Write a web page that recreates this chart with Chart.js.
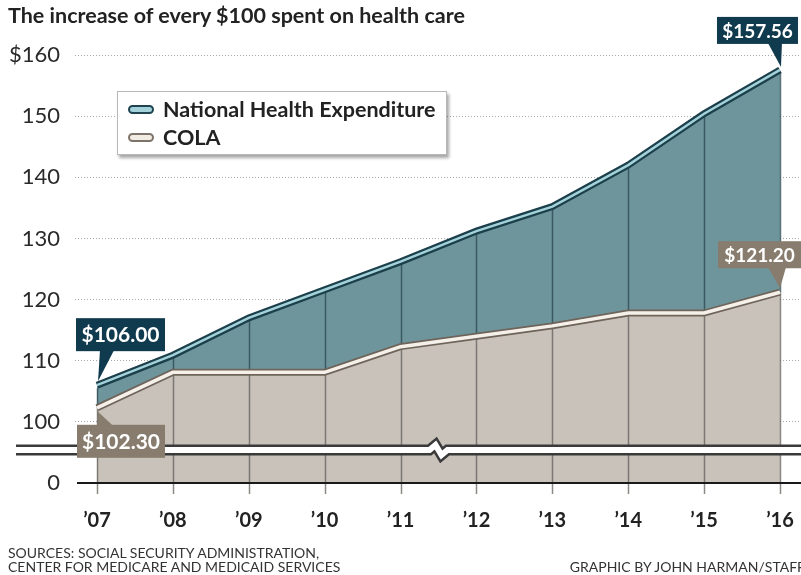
<!DOCTYPE html>
<html>
<head>
<meta charset="utf-8">
<script src="https://cdn.jsdelivr.net/npm/chart.js@4/dist/chart.umd.min.js"></script>
<style>
  body { margin: 0; background: #fff; font-family: Lato, "Open Sans", sans-serif; }
  #wrap { position: relative; width: 801px; height: 575px; overflow: hidden; }
  #title { position: absolute; left: 8px; top: 2px; font-size: 21.5px; font-weight: bold; color: #222; }
  #legend { position: absolute; left: 117px; top: 91px; width: 328px; height: 62px; background: #fff;
            border: 1px solid #b8b8b8; box-shadow: 2px 3px 3px rgba(0,0,0,0.35); }
  .row { position: absolute; left: 10px; font-size: 21.5px; font-weight: bold; color: #222; line-height: 24px; white-space: nowrap; }
  .pill { display: inline-block; width: 22px; height: 5px; border-radius: 5px; vertical-align: middle; margin-right: 9px; position: relative; top: -2px; }
  .src { position: absolute; font-size: 14px; color: #333; line-height: 14px; white-space: nowrap; }
</style>
</head>
<body>
<div id="wrap">
  <canvas id="chart" width="801" height="575"></canvas>
  <div id="title">The increase of every $100 spent on health care</div>
  <div id="legend">
    <div class="row" style="top:5px"><span class="pill" style="background:#a4d2da;border:2px solid #1f4450"></span>National Health Expenditure</div>
    <div class="row" style="top:33px"><span class="pill" style="background:#f1ece4;border:2px solid #7d7369"></span>COLA</div>
  </div>
  <div class="src" style="left:8px;top:546px">SOURCES: SOCIAL SECURITY ADMINISTRATION,<br>CENTER FOR MEDICARE AND MEDICAID SERVICES</div>
  <div class="src" style="right:-4px;top:560px">GRAPHIC BY JOHN HARMAN/STAFF</div>
</div>
<script>
const years = [2007, 2008, 2009, 2010, 2011, 2012, 2013, 2014, 2015, 2016]
const nhe = [106.00, 110.9, 117.0, 121.6, 126.2, 131.2, 135.2, 142.0, 150.4, 157.56]
const cola = [102.30, 108.1, 108.1, 108.1, 112.3, 114.0, 115.7, 117.8, 117.8, 121.20]
const yTicks = [90, 100, 110, 120, 130, 140, 150, 160]
const breakValue = 95.4

const toPoints = arr => arr.map((v, i) => ({x: years[i], y: v}))

// vertical lines under the lines but over the fills
const verticals = {
  id: "verticals",
  beforeDatasetsDraw(chart) {
    const ctx = chart.ctx, xs = chart.scales.x, ys = chart.scales.y
    const bottom = ys.getPixelForValue(90)
    ctx.save()
    ctx.lineWidth = 1.5
    years.forEach((yr, i) => {
      const x = Math.round(xs.getPixelForValue(yr)) + 0.5
      const top = ys.getPixelForValue(nhe[i]) + 3
      const mid = ys.getPixelForValue(cola[i])
      ctx.strokeStyle = "rgba(40,70,78,0.75)"
      ctx.beginPath(); ctx.moveTo(x, top); ctx.lineTo(x, mid); ctx.stroke()
      ctx.strokeStyle = "rgba(90,86,82,0.7)"
      ctx.beginPath(); ctx.moveTo(x, mid); ctx.lineTo(x, bottom + 11); ctx.stroke()
    })
    ctx.restore()
  }
}

function callout(ctx, px, py, text, bg, bx, by, w, h, b1, b2, baseY, tip, fontSize) {
  ctx.fillStyle = bg
  ctx.fillRect(px + bx, py + by, w, h)
  ctx.beginPath()
  ctx.moveTo(px + b1, py + baseY)
  ctx.lineTo(px + b2, py + baseY)
  ctx.lineTo(px + tip[0], py + tip[1])
  ctx.closePath()
  ctx.fill()
  ctx.fillStyle = "#fff"
  ctx.font = "bold " + fontSize + "px Lato"
  ctx.textAlign = "center"
  ctx.textBaseline = "middle"
  ctx.fillText(text, px + bx + w / 2, py + by + h / 2 + 1)
}

const extras = {
  id: "extras",
  afterDraw(chart) {
    const ctx = chart.ctx, xs = chart.scales.x, ys = chart.scales.y
    const area = chart.chartArea
    const y0 = ys.getPixelForValue(90)
    ctx.save()
    // base axis
    ctx.strokeStyle = "#1a1a1a"
    ctx.lineWidth = 2
    ctx.beginPath(); ctx.moveTo(area.left + 2, y0); ctx.lineTo(801, y0); ctx.stroke()

    // axis break band
    const yb = Math.round(ys.getPixelForValue(breakValue))
    const zx = xs.getPixelForValue(2011.5)
    const band = () => {
      ctx.beginPath()
      ctx.moveTo(16, yb); ctx.lineTo(zx - 9, yb)
      ctx.lineTo(zx - 3, yb - 5); ctx.lineTo(zx + 3, yb + 5); ctx.lineTo(zx + 9, yb)
      ctx.lineTo(801, yb)
      ctx.stroke()
    }
    ctx.lineJoin = "miter"
    ctx.strokeStyle = "#3a3a3a"; ctx.lineWidth = 11; band()
    ctx.strokeStyle = "#ffffff"; ctx.lineWidth = 6; band()

    // value callouts
    const last = years.length - 1
    const fmt = v => "$" + v.toFixed(2)
    let px = xs.getPixelForValue(years[0]), py = ys.getPixelForValue(nhe[0])
    callout(ctx, px, py, fmt(nhe[0]), "#103a4e", -21, -67, 89, 33, 3, 17, -35, [1, -4], 21)
    py = ys.getPixelForValue(cola[0])
    callout(ctx, px, py, fmt(cola[0]), "#877c6d", -20, 17, 88, 33, 1, 16, 18, [1, 4], 21)
    px = xs.getPixelForValue(years[last]); py = ys.getPixelForValue(nhe[last])
    callout(ctx, px, py, fmt(nhe[last]), "#103a4e", -63, -53, 81, 27, -12, 2, -27, [1, -3], 19)
    py = ys.getPixelForValue(cola[last])
    callout(ctx, px, py, fmt(cola[last]), "#877c6d", -62, -51, 83, 27, -12, 6, -25, [0, -4], 19)
    ctx.restore()
  }
}

new Chart(document.getElementById("chart"), {
  type: "line",
  data: {
    datasets: [
      {
        label: "National Health Expenditure",
        data: toPoints(nhe),
        borderColor: "#1b3f4b",
        borderWidth: 7,
        backgroundColor: "#6f959c",
        fill: 2,
        pointRadius: 0,
        order: 2
      },
      {
        label: "nhe-inner",
        data: toPoints(nhe),
        borderColor: "#a4d2da",
        borderWidth: 2.5,
        fill: false,
        pointRadius: 0,
        order: 1
      },
      {
        label: "COLA",
        data: toPoints(cola),
        borderColor: "#6e645a",
        borderWidth: 7,
        backgroundColor: "#c8c2bb",
        fill: "start",
        pointRadius: 0,
        order: 4
      },
      {
        label: "cola-inner",
        data: toPoints(cola),
        borderColor: "#f5f1ea",
        borderWidth: 3.5,
        fill: false,
        pointRadius: 0,
        order: 3
      }
    ]
  },
  options: {
    responsive: false,
    animation: false,
    layout: {
      padding: {top: 55, left: 8, right: 0, bottom: 24}
    },
    plugins: {
      legend: {display: false},
      tooltip: {enabled: false},
      filler: {drawTime: "beforeDatasetsDraw"}
    },
    scales: {
      x: {
        type: "linear",
        min: 2006.71,
        max: 2016.277,
        afterFit: scale => { scale.paddingLeft = 0; scale.paddingRight = 0 },
        grid: {display: false},
        border: {display: false},
        ticks: {
          stepSize: 1,
          includeBounds: false,
          padding: 18,
          color: "#222",
          font: {family: "Lato", size: 20, weight: "bold"},
          callback: v => "\u2019" + String(v).slice(2)
        }
      },
      y: {
        min: 90,
        max: 160,
        z: 1,
        afterFit: scale => { scale.width = 67 },
        afterBuildTicks: scale => { scale.ticks = yTicks.map(v => ({value: v})) },
        grid: {
          drawTicks: false,
          color: ctx => ctx.tick && ctx.tick.value === 90 ? "rgba(0,0,0,0)" : "rgba(110,110,110,0.6)",
          lineWidth: 1
        },
        border: {display: false, dash: [1, 2]},
        ticks: {
          padding: 15,
          color: "#2a2a2a",
          font: {family: "Lato", size: 22},
          callback: v => v === 90 ? "0" : v === 160 ? "$160" : String(v)
        }
      }
    }
  },
  plugins: [verticals, extras]
});
</script>
</body>
</html>
